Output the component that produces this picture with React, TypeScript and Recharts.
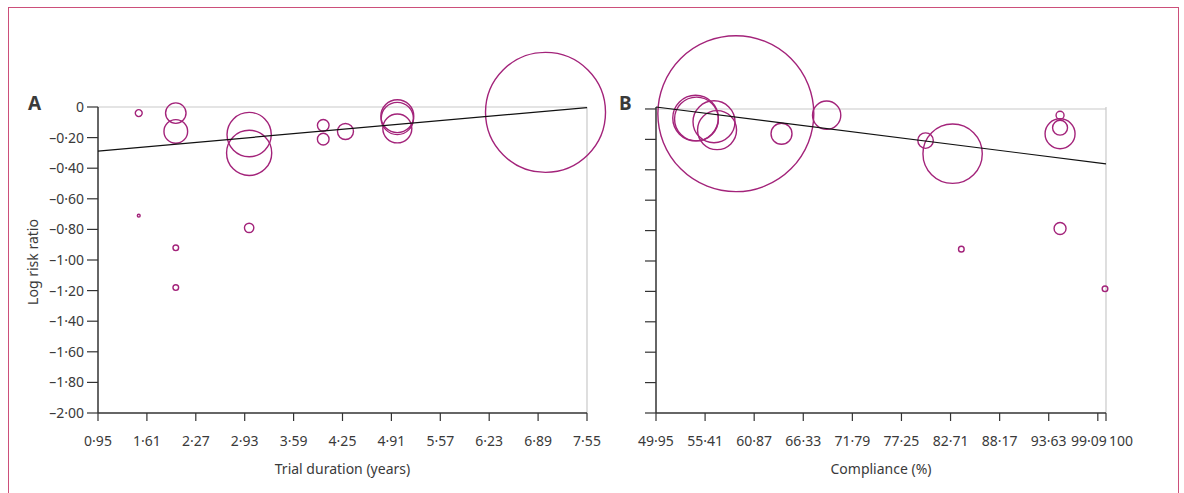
import React from 'react';
import { ScatterChart, Scatter, XAxis, YAxis, ZAxis, ReferenceLine } from 'recharts';

const durationTicks = [0.95, 1.61, 2.27, 2.93, 3.59, 4.25, 4.91, 5.57, 6.23, 6.89, 7.55];
const complianceTicks = [49.95, 55.41, 60.87, 66.33, 71.79, 77.25, 82.71, 88.17, 93.63, 99.09, 100];
const logRRTicks = [0, -0.2, -0.4, -0.6, -0.8, -1.0, -1.2, -1.4, -1.6, -1.8, -2.0];

// panel A: one entry per trial (weight drives bubble area)
const durationYears = [1.5, 1.5, 2.0, 2.0, 2.0, 2.0, 2.99, 2.99, 2.99, 3.99, 3.99, 4.29, 4.99, 4.99, 4.99, 6.99];
const logRRA = [-0.04, -0.71, -0.04, -0.16, -0.92, -1.18, -0.18, -0.3, -0.79, -0.12, -0.21, -0.16, -0.06, -0.075, -0.14, -0.035];
const weightA = [1.2, 0.2, 10.5, 14, 0.8, 0.8, 49, 51, 2.2, 3.4, 3.4, 6.4, 27, 26, 21, 360];
const fitA = [{ x: 0.95, y: -0.288 }, { x: 7.55, y: -0.004 }];

// panel B
const compliancePct = [58.83, 54.35, 54.45, 56.4, 56.74, 63.91, 68.93, 79.93, 82.94, 83.91, 94.89, 94.89, 94.89, 94.89, 99.89];
const logRRB = [-0.031, -0.06, -0.066, -0.084, -0.139, -0.163, -0.041, -0.208, -0.294, -0.922, -0.041, -0.123, -0.163, -0.786, -1.183];
const weightB = [608, 52, 48, 44, 38, 11, 20, 6, 88, 0.8, 1.6, 5.6, 22.5, 3.6, 0.8];
const fitB = [{ x: 49.95, y: 0.013 }, { x: 100, y: -0.361 }];

const trialsA = durationYears.map((x, i) => ({ x, y: logRRA[i], w: weightA[i] }));
const trialsB = compliancePct.map((x, i) => ({ x, y: logRRB[i], w: weightB[i] }));

const BUBBLE = '#a3237a';
const AXIS = '#333';
const BOX = '#c9c9c9';
const TEXT = '#3a3a3a';

const fmtX = (v: number) => (Number.isInteger(v) ? String(v) : v.toFixed(2).replace('.', '·'));
const fmtY = (v: number) => (v === 0 ? '0' : '–' + Math.abs(v).toFixed(2).replace('.', '·'));

// last two compliance labels sit close together, nudge them apart like the print version
const ComplianceTick = (props: any) => {
  const { x, y, payload } = props;
  const v = payload.value;
  let anchor = 'middle';
  let dx = 0;
  if (v === 100) {
    anchor = 'start';
    dx = 3;
  } else if (v === 99.09) {
    anchor = 'end';
    dx = 9;
  }
  return (
    <text x={x + dx} y={y} dy="0.71em" textAnchor={anchor} fontSize={14} fill={TEXT}>
      {fmtX(v)}
    </text>
  );
};

const noMarker = () => <g />;

export default function App() {
  return (
    <div
      style={{
        position: 'fixed',
        left: 0,
        top: 0,
        width: 1184,
        height: 493,
        overflow: 'hidden',
        background: '#fff',
        fontFamily: '"Noto Sans", sans-serif',
        color: TEXT,
      }}
    >
      <div
        style={{
          position: 'absolute',
          left: 8,
          top: 7,
          width: 1171,
          height: 540,
          border: '1.5px solid #cc4f7a',
          boxSizing: 'border-box',
        }}
      />

      <div style={{ position: 'absolute', left: 28, top: 94, fontSize: 19, fontWeight: 700, lineHeight: 1 }}>A</div>
      <div style={{ position: 'absolute', left: 619, top: 94, fontSize: 19, fontWeight: 700, lineHeight: 1 }}>B</div>
      <div
        style={{
          position: 'absolute',
          left: 32,
          top: 262,
          fontSize: 14,
          whiteSpace: 'nowrap',
          transform: 'translate(-50%, -50%) rotate(-90deg)',
        }}
      >
        Log risk ratio
      </div>

      <div style={{ position: 'absolute', left: 0, top: 0 }}>
        <ScatterChart width={620} height={493} margin={{ top: 107, right: 33, bottom: 19, left: 38 }}>
          <XAxis
            type="number"
            dataKey="x"
            domain={[0.95, 7.55]}
            ticks={durationTicks}
            tickFormatter={fmtX}
            interval={0}
            height={61}
            tickSize={8}
            tickMargin={15}
            axisLine={{ stroke: AXIS, strokeWidth: 1.5 }}
            tickLine={{ stroke: AXIS, strokeWidth: 1.2 }}
            tick={{ fontSize: 14, fill: TEXT }}
            label={{ value: 'Trial duration (years)', position: 'insideBottom', offset: 0, fontSize: 14, fill: TEXT }}
          />
          <YAxis
            type="number"
            dataKey="y"
            domain={[-2, 0]}
            ticks={logRRTicks}
            tickFormatter={fmtY}
            interval={0}
            width={60}
            tickSize={11}
            tickMargin={3}
            axisLine={{ stroke: AXIS, strokeWidth: 1.5 }}
            tickLine={{ stroke: AXIS, strokeWidth: 1.2 }}
            tick={{ fontSize: 14, fill: TEXT }}
          />
          <ZAxis type="number" dataKey="w" domain={[0, 1000]} range={[0, 31416]} />
          <ReferenceLine y={0} stroke={BOX} strokeWidth={1.2} />
          <ReferenceLine x={7.55} stroke={BOX} strokeWidth={1.2} />
          <Scatter data={trialsA} fill="none" stroke={BUBBLE} strokeWidth={1.4} isAnimationActive={false} />
          <Scatter
            data={fitA}
            line={{ stroke: '#111', strokeWidth: 1.2 }}
            shape={noMarker}
            isAnimationActive={false}
          />
        </ScatterChart>
      </div>

      <div style={{ position: 'absolute', left: 596, top: 0 }}>
        <ScatterChart width={588} height={493} margin={{ top: 107, right: 78, bottom: 19, left: 40 }}>
          <XAxis
            type="number"
            dataKey="x"
            domain={[49.95, 100]}
            ticks={complianceTicks}
            interval={0}
            height={61}
            tickSize={8}
            tickMargin={15}
            axisLine={{ stroke: AXIS, strokeWidth: 1.5 }}
            tickLine={{ stroke: AXIS, strokeWidth: 1.2 }}
            tick={<ComplianceTick />}
            label={{ value: 'Compliance (%)', position: 'insideBottom', offset: 0, fontSize: 14, fill: TEXT }}
          />
          <YAxis
            type="number"
            dataKey="y"
            domain={[-2, 0]}
            ticks={logRRTicks}
            tickFormatter={() => ''}
            interval={0}
            width={20}
            tickSize={11}
            axisLine={{ stroke: AXIS, strokeWidth: 1.5 }}
            tickLine={{ stroke: AXIS, strokeWidth: 1.2 }}
          />
          <ZAxis type="number" dataKey="w" domain={[0, 1000]} range={[0, 31416]} />
          <ReferenceLine y={0} stroke={BOX} strokeWidth={1.2} />
          <ReferenceLine x={100} stroke={BOX} strokeWidth={1.2} />
          <Scatter data={trialsB} fill="none" stroke={BUBBLE} strokeWidth={1.4} isAnimationActive={false} />
          <Scatter
            data={fitB}
            line={{ stroke: '#111', strokeWidth: 1.2 }}
            shape={noMarker}
            isAnimationActive={false}
          />
        </ScatterChart>
      </div>
    </div>
  );
}
